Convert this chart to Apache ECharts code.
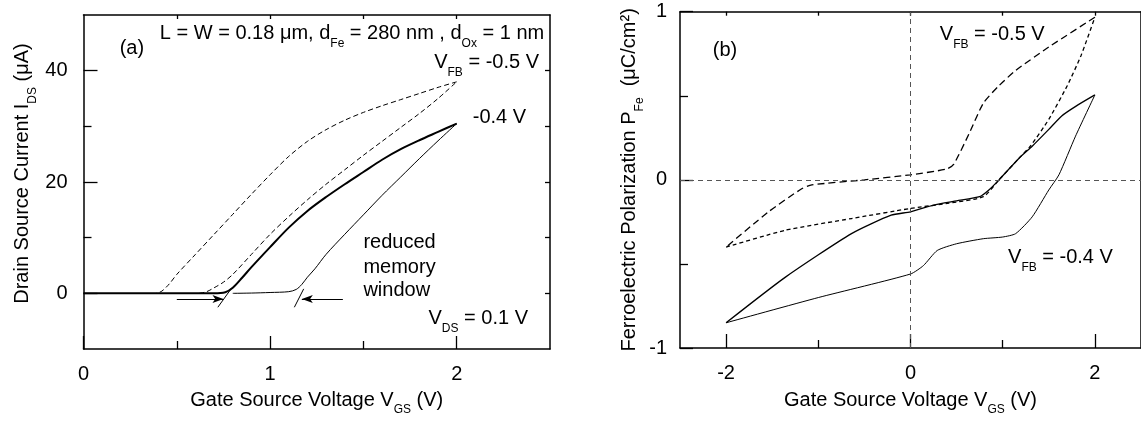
<!DOCTYPE html>
<html>
<head>
<meta charset="utf-8">
<script src="https://cdn.jsdelivr.net/npm/echarts@6/dist/echarts.min.js"></script>
<style>
  html, body { margin: 0; padding: 0; background: #fff; }
  #chart { width: 1141px; height: 421px; }
</style>
</head>
<body>
<div id="chart"></div>
<script>
// ---------- Panel (a): transfer curves I_DS(V_GS) ----------
// V_FB = -0.5 V, sweep from 2 V down to 0 V
const vgsFb05Down = [2.0, 1.9, 1.8, 1.7, 1.6, 1.5, 1.4, 1.3, 1.2, 1.1, 1.0, 0.9, 0.8, 0.7, 0.6, 0.5, 0.46, 0.42, 0.39];
const idsFb05Down = [38.0, 37.0, 35.9, 34.8, 33.7, 32.5, 31.1, 29.4, 27.3, 24.6, 21.3, 17.8, 14.2, 10.6, 7.0, 3.4, 1.7, 0.4, 0];
// V_FB = -0.5 V, sweep from 0 V up to 2 V
const vgsFb05Up = [0.62, 0.66, 0.7, 0.75, 0.8, 0.9, 1.0, 1.1, 1.2, 1.3, 1.4, 1.5, 1.6, 1.7, 1.8, 1.9, 2.0];
const idsFb05Up = [0, 0.3, 1.0, 2.0, 3.4, 7.0, 10.6, 13.8, 16.8, 19.6, 22.2, 24.8, 27.3, 29.8, 32.3, 35.0, 38.0];
// V_FB = -0.4 V, sweep up
const vgsFb04Up = [0, 0.7, 0.76, 0.8, 0.85, 0.9, 1.0, 1.1, 1.2, 1.3, 1.4, 1.5, 1.6, 1.7, 1.8, 1.9, 2.0];
const idsFb04Up = [0, 0, 0.2, 1.0, 2.8, 4.7, 8.3, 11.8, 14.8, 17.3, 19.6, 21.8, 24.0, 25.9, 27.5, 29.0, 30.5];
// V_FB = -0.4 V, sweep down
const vgsFb04Down = [2.0, 1.9, 1.8, 1.7, 1.6, 1.5, 1.4, 1.3, 1.24, 1.2, 1.17, 1.14, 1.1, 1.0, 0.9, 0.8];
const idsFb04Down = [30.5, 27.4, 24.2, 20.9, 17.6, 14.1, 10.6, 7.0, 4.4, 2.9, 1.6, 0.7, 0.3, 0.15, 0.05, 0];
// threshold extrapolation strokes and memory-window arrows
const onsetLeft = [[0.72, -2.5], [0.795, 1.0]];
const onsetRight = [[1.13, -2.5], [1.18, 0.8]];
const arrowRight = [[0.5, -1.0], [0.75, -1.0]];
const arrowLeft = [[1.39, -1.0], [1.17, -1.0]];
// axis ticks
const vgsMajorA = [0, 1, 2];
const vgsMinorA = [0.5, 1.5];
const vgsTopA = [0.5, 1, 1.5, 2];
const idsMajor = [0, 20, 40];
const idsMinor = [10, 30];
const idsRight = [0, 10, 20, 30, 40];

// ---------- Panel (b): polarization P_Fe(V_GS) ----------
const vgsPFb05Upper = [2.0, 1.5, 1.14, 0.96, 0.79, 0.64, 0.47, 0.39, 0, -0.5, -1.07, -1.18, -1.54, -2.0];
const pFb05Upper = [0.967, 0.79, 0.65, 0.56, 0.456, 0.28, 0.094, 0.064, 0.03, 0.0, -0.03, -0.053, -0.19, -0.40];
const vgsPFb05Lower = [-2.0, -1.36, -0.64, 0, 0.4, 0.79, 0.96, 1.18, 1.3, 1.5, 1.7, 1.85, 2.0];
const pFb05Lower = [-0.40, -0.30, -0.23, -0.17, -0.14, -0.10, 0.0, 0.13, 0.20, 0.36, 0.56, 0.74, 0.967];
const vgsPFb04Upper = [-2.0, -1.36, -0.64, -0.21, 0, 0.25, 0.5, 0.75, 0.85, 0.96, 1.18, 1.32, 1.5, 1.64, 1.8, 2.0];
const pFb04Upper = [-0.85, -0.58, -0.32, -0.21, -0.19, -0.15, -0.125, -0.10, -0.06, 0.0, 0.13, 0.20, 0.30, 0.38, 0.44, 0.505];
const vgsPFb04Lower = [2.0, 1.79, 1.61, 1.5, 1.32, 1.14, 1.0, 0.79, 0.5, 0.29, 0.14, 0, -1.0, -2.0];
const pFb04Lower = [0.505, 0.26, 0.03, -0.06, -0.22, -0.32, -0.34, -0.35, -0.38, -0.42, -0.51, -0.56, -0.70, -0.85];
const vgsMajorB = [-2, 0, 2];
const vgsMinorB = [-1, 1];
const vgsTopB = [-2, -1, 0, 1, 2];
const pMajor = [-1, 0, 1];
const pMinor = [-0.5, 0.5];

const FONT = '"Liberation Sans", Arial, Helvetica, sans-serif';
const INK = '#000';
const zip = (xs, ys) => xs.map((x, i) => [x, ys[i]]);

const subRich = {
  s: { fontSize: 12, fontFamily: FONT, color: INK, fill: INK, verticalAlign: 'top', padding: [20, 0, 0, 0] }
};

function tickAxis(gridIndex, pos, min, max, ticks, len, opts) {
  return Object.assign({
    type: 'value', gridIndex, position: pos, min, max,
    axisLine: { show: false, onZero: false },
    axisTick: { show: true, inside: true, length: len, customValues: ticks, lineStyle: { color: INK, width: 1.3 } },
    axisLabel: { show: false },
    splitLine: { show: false }
  }, opts || {});
}
const frameLine = { show: true, onZero: false, lineStyle: { color: INK, width: 1.5 } };
const tickLabel = (vals, margin) => ({ show: true, customValues: vals, margin, fontSize: 20, fontFamily: FONT, color: INK });

function line(data, xi, yi, width, type, smooth) {
  return {
    type: 'line', data, xAxisIndex: xi, yAxisIndex: yi, symbol: 'none', smooth: smooth || false,
    lineStyle: { color: INK, width, type }, silent: true, z: 3
  };
}

const chart = echarts.init(document.getElementById('chart'), null, { renderer: 'canvas' });

const option = {
  animation: false,
  backgroundColor: '#fff',
  textStyle: { fontFamily: FONT },
  grid: [
    { left: 83.5, top: 15, width: 466.5, height: 340, containLabel: false },
    { left: 680, top: 11.7, width: 466.7, height: 342.3, containLabel: false }
  ],
  xAxis: [
    tickAxis(0, 'bottom', 0, 2.5, vgsMajorA, 13, {
      axisLine: frameLine,
      axisLabel: tickLabel(vgsMajorA, 15),
      name: 'Gate Source Voltage V{s|GS} (V)', nameLocation: 'middle', nameGap: 35,
      nameTextStyle: { fontSize: 20, fontFamily: FONT, color: INK, rich: subRich }
    }),
    tickAxis(0, 'bottom', 0, 2.5, vgsMinorA, 8),
    tickAxis(0, 'top', 0, 2.5, vgsTopA, 4, { axisLine: frameLine }),
    tickAxis(1, 'bottom', -2.5, 2.5, vgsMajorB, 14, {
      axisLine: frameLine,
      axisLabel: tickLabel(vgsMajorB, 15),
      name: 'Gate Source Voltage V{s|GS} (V)', nameLocation: 'middle', nameGap: 36,
      nameTextStyle: { fontSize: 20, fontFamily: FONT, color: INK, rich: subRich }
    }),
    tickAxis(1, 'bottom', -2.5, 2.5, vgsMinorB, 8),
    tickAxis(1, 'top', -2.5, 2.5, vgsTopB, 4, { axisLine: frameLine })
  ],
  yAxis: [
    tickAxis(0, 'left', -10, 50, idsMajor, 14, {
      axisLine: frameLine,
      axisLabel: tickLabel(idsMajor, 16),
      name: 'Drain Source Current I{s|DS} (μA)', nameLocation: 'middle', nameRotate: 90, nameGap: 45,
      nameTextStyle: { fontSize: 20, fontFamily: FONT, color: INK, rich: subRich, padding: [0, 0, 0, 17] }
    }),
    tickAxis(0, 'left', -10, 50, idsMinor, 8),
    tickAxis(0, 'right', -10, 50, idsRight, 5, { axisLine: frameLine }),
    tickAxis(1, 'left', -1, 1, pMajor, 13, {
      axisLine: frameLine,
      axisLabel: tickLabel(pMajor, 13),
      name: 'Ferroelectric Polarization P{s|Fe}  (μC/cm²)', nameLocation: 'middle', nameRotate: 90, nameGap: 30,
      nameTextStyle: { fontSize: 20, fontFamily: FONT, color: INK, rich: subRich }
    }),
    tickAxis(1, 'left', -1, 1, pMinor, 8),
    tickAxis(1, 'right', -1, 1, [], 5, { axisLine: frameLine })
  ],
  series: [
    line(zip(vgsFb05Down, idsFb05Down), 0, 0, 1, [5, 3], 0.3),
    line(zip(vgsFb05Up, idsFb05Up), 0, 0, 1, [5, 3], 0.3),
    line(zip(vgsFb04Down, idsFb04Down), 0, 0, 1, 'solid', 0.3),
    line(zip(vgsFb04Up, idsFb04Up), 0, 0, 2, 'solid', 0.3),
    line(onsetLeft, 0, 0, 1, 'solid'),
    line(onsetRight, 0, 0, 1, 'solid'),
    {
      type: 'line', data: [], xAxisIndex: 0, yAxisIndex: 0, silent: true,
      markLine: {
        silent: true, symbol: ['none', 'arrow'], symbolSize: [6, 11],
        label: { show: false },
        lineStyle: { color: INK, width: 1, type: 'solid' },
        emphasis: { disabled: true },
        data: [
          [{ coord: arrowRight[0] }, { coord: arrowRight[1] }],
          [{ coord: arrowLeft[0] }, { coord: arrowLeft[1] }]
        ]
      }
    },
    {
      type: 'line', data: [], xAxisIndex: 3, yAxisIndex: 3, silent: true,
      markLine: {
        silent: true, symbol: ['none', 'none'],
        label: { show: false },
        lineStyle: { color: '#555', width: 1, type: [5, 4] },
        emphasis: { disabled: true },
        data: [{ xAxis: 0 }, { yAxis: 0 }]
      }
    },
    line(zip(vgsPFb05Upper, pFb05Upper), 3, 3, 1.3, [7, 4], 0.2),
    line(zip(vgsPFb05Lower, pFb05Lower), 3, 3, 1.3, [4, 3], 0.2),
    line(zip(vgsPFb04Upper, pFb04Upper), 3, 3, 1.3, 'solid', 0.2),
    line(zip(vgsPFb04Lower, pFb04Lower), 3, 3, 1, 'solid', 0.2)
  ]
};
chart.setOption(option);

// Annotations anchored in data coordinates of each panel
const notesA = [
  { at: [0.194, 43.9], text: '(a)', align: 'left' },
  { at: [0.409, 46.6], text: 'L = W = 0.18 μm, d{s|Fe} = 280 nm , d{s|Ox} = 1 nm', align: 'left' },
  { at: [2.441, 41.4], text: 'V{s|FB} = -0.5 V', align: 'right' },
  { at: [2.086, 31.6], text: '-0.4 V', align: 'left' },
  { at: [1.5, 9.15], text: 'reduced', align: 'left' },
  { at: [1.5, 4.73], text: 'memory', align: 'left' },
  { at: [1.5, 0.48], text: 'window', align: 'left' },
  { at: [1.849, -4.55], text: 'V{s|DS} = 0.1 V', align: 'left' }
];
const notesB = [
  { at: [-2.145, 0.772], text: '(b)', align: 'left' },
  { at: [0.318, 0.865], text: 'V{s|FB} = -0.5 V', align: 'left' },
  { at: [1.058, -0.462], text: 'V{s|FB} = -0.4 V', align: 'left' }
];
function toGraphic(note, axisIndex) {
  const p = chart.convertToPixel({ xAxisIndex: axisIndex, yAxisIndex: axisIndex }, note.at);
  return {
    type: 'text', x: p[0], y: p[1], silent: true, z: 10,
    style: {
      text: note.text, fontSize: 20, fontFamily: FONT, fill: INK,
      align: note.align, textAlign: note.align, verticalAlign: 'middle', textVerticalAlign: 'middle',
      rich: subRich
    }
  };
}
chart.setOption({
  graphic: notesA.map(n => toGraphic(n, 0)).concat(notesB.map(n => toGraphic(n, 3)))
});
</script>
</body>
</html>
